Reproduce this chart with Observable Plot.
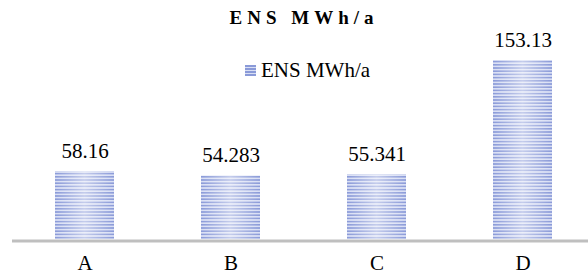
<!DOCTYPE html>
<html>
<head>
<meta charset="utf-8">
<script src="https://cdn.jsdelivr.net/npm/d3@7"></script>
<script src="https://cdn.jsdelivr.net/npm/@observablehq/plot@0.6"></script>
<style>
  html, body { margin: 0; padding: 0; background: #fff; overflow: hidden; }
  #wrap, #wrap svg, #wrap svg text { font-family: "Liberation Serif", "Times New Roman", Times, serif !important; }
  #wrap { position: relative; width: 588px; height: 275px; }
  #title { position: absolute; left: 0; top: 6px; width: 588px; text-align: center; padding-left: 20px; box-sizing: border-box;
           font-weight: bold; font-size: 19px; letter-spacing: 5px; color: #000; line-height: 24px; }
  #legend { position: absolute; left: 245px; top: 58px; font-size: 21px; color: #000; line-height: 24px; white-space: nowrap; }
  #legend .sw { display: inline-block; width: 11px; height: 11px; margin-right: 5px; vertical-align: 1px;
    background: repeating-linear-gradient(to bottom, #8a9ad8 0px, #8a9ad8 1.5px, #d9dff4 1.5px, #d9dff4 3px); }
  #chart { position: absolute; left: 0; top: 0; }
</style>
</head>
<body>
<div id="wrap">
  <div id="chart"></div>
  <div id="title">ENS MWh/a</div>
  <div id="legend"><span class="sw"></span>ENS MWh/a</div>
</div>
<script>
const categories = ["A", "B", "C", "D"];
const values = [58.16, 54.283, 55.341, 153.13];
const valueLabels = ["58.16", "54.283", "55.341", "153.13"];
const seriesName = "ENS MWh/a";

const data = categories.map((c, i) => ({cat: c, value: values[i], label: valueLabels[i]}));

const plot = Plot.plot({
  width: 588,
  height: 275,
  marginTop: 52,
  marginBottom: 36,
  marginLeft: 12,
  marginRight: 0,
  style: {background: "transparent", overflow: "visible"},
  x: {domain: categories, range: [11.5, 595.5], paddingInner: 0.596, paddingOuter: 0.298, label: null},
  y: {domain: [0, 160], axis: null},
  marks: [
    Plot.barY(data, {x: "cat", y: "value", fill: "url(#stripes)"}),
    Plot.barY(data, {x: "cat", y: "value", fill: "url(#shine)"}),
    Plot.ruleY([0], {stroke: "#bfbfbf", strokeWidth: 3, dy: 1.5}),
    Plot.text(data, {x: "cat", y: "value", text: "label", lineAnchor: "bottom", dy: -14, fontSize: 21, fill: "#000"}),
    Plot.axisX({tickSize: 0, tickPadding: 16, fontSize: 21, color: "#000", label: null})
  ]
});

const svg = d3.select(plot);
const defs = svg.insert("defs", ":first-child");
const pat = defs.append("pattern").attr("id", "stripes").attr("patternUnits", "userSpaceOnUse")
  .attr("width", 8).attr("height", 3.2);
pat.append("rect").attr("width", 8).attr("height", 3.2).attr("fill", "#d9dff4");
pat.append("rect").attr("width", 8).attr("height", 1.6).attr("fill", "#8a9ad8");
const g = defs.append("linearGradient").attr("id", "shine").attr("x1", 0).attr("x2", 1).attr("y1", 0).attr("y2", 0);
g.append("stop").attr("offset", "0%").attr("stop-color", "#fff").attr("stop-opacity", 0);
g.append("stop").attr("offset", "50%").attr("stop-color", "#fff").attr("stop-opacity", 0.5);
g.append("stop").attr("offset", "100%").attr("stop-color", "#fff").attr("stop-opacity", 0);

document.getElementById("chart").appendChild(plot);
</script>
</body>
</html>
